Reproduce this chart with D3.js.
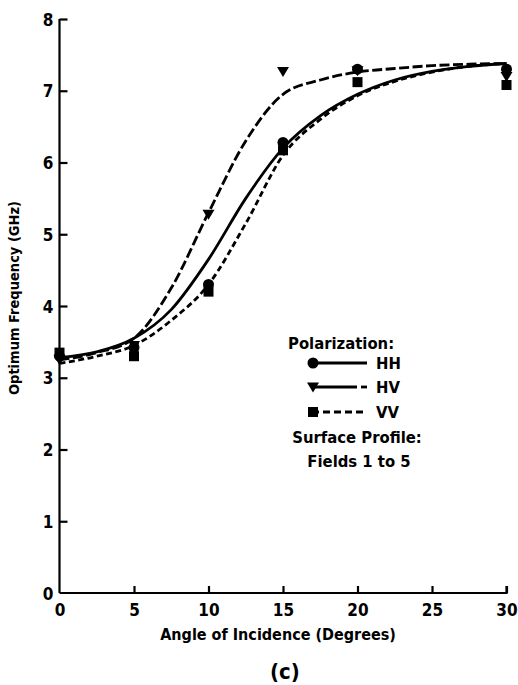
<!DOCTYPE html>
<html>
<head>
<meta charset="utf-8">
<script src="https://cdn.jsdelivr.net/npm/d3@7"></script>
<style>
  html, body { margin: 0; padding: 0; background: #fff; }
  svg { display: block; }
  text { font-family: "DejaVu Sans Condensed", "Liberation Sans Narrow", "DejaVu Sans", sans-serif; font-stretch: condensed; fill: #000; }
</style>
</head>
<body>
<svg id="chart" width="518" height="685"></svg>
<script>
// ---- Data ----
const xTicks = [0, 5, 10, 15, 20, 25, 30];
const yTicks = [0, 1, 2, 3, 4, 5, 6, 7, 8];

// measured points
const hhAngles = [0, 5, 10, 15, 20, 30];
const hhValues = [3.3, 3.42, 4.3, 6.28, 7.3, 7.3];
const hvAngles = [0, 5, 10, 15, 20, 30];
const hvValues = [3.25, 3.45, 5.28, 7.27, 7.28, 7.2];
const vvAngles = [0, 5, 10, 15, 20, 30];
const vvValues = [3.35, 3.3, 4.2, 6.17, 7.12, 7.08];

// fitted curves
const fitAngles = [0, 2.5, 5, 7.5, 10, 12.5, 15, 17.5, 20, 22.5, 25, 27.5, 30];
const hhFit = [3.28, 3.36, 3.55, 3.95, 4.65, 5.5, 6.2, 6.65, 6.95, 7.15, 7.27, 7.34, 7.38];
const hvFit = [3.25, 3.35, 3.55, 4.25, 5.3, 6.3, 6.95, 7.15, 7.26, 7.31, 7.35, 7.37, 7.38];
const vvFit = [3.2, 3.3, 3.45, 3.8, 4.3, 5.15, 6.1, 6.6, 6.93, 7.13, 7.26, 7.34, 7.38];

const legendLabels = ["HH", "HV", "VV"];

// ---- Drawing ----
const svg = d3.select("#chart");
const x = d3.scaleLinear().domain([0, 30]).range([59.5, 506.5]);
const y = d3.scaleLinear().domain([0, 8]).range([593, 19]);

const styles = {
  HH: { dash: null, marker: "circle" },
  HV: { dash: "10,3.5", marker: "triangle" },
  VV: { dash: "6,3.5", marker: "square" }
};

// axes
const gx = svg.append("g").attr("transform", `translate(0,${y(0)})`)
  .call(d3.axisBottom(x).tickValues(xTicks).tickSize(-7).tickPadding(14).tickFormat(d3.format("d")));
const gy = svg.append("g").attr("transform", `translate(${x(0)},0)`)
  .call(d3.axisLeft(y).tickValues(yTicks).tickSize(-8).tickPadding(6).tickFormat(d3.format("d")));

[gx, gy].forEach(g => {
  g.select(".domain").attr("stroke", "#000").attr("stroke-width", 2.2);
  g.selectAll(".tick line").attr("stroke", "#000").attr("stroke-width", 2.2);
  g.selectAll(".tick text").attr("font-size", 17).attr("font-weight", "bold")
    .attr("font-family", "'DejaVu Sans Condensed', 'Liberation Sans Narrow', sans-serif");
});
gy.selectAll(".tick line").filter(d => d === 0).remove();
gx.selectAll(".tick line").filter(d => d === 0).remove();
gy.selectAll(".tick text").attr("dy", "0.36em");
gx.selectAll(".tick text").attr("dy", "0.5em");
gy.select(".domain").attr("d", `M0,${y(0)}V${y(8)}`);
gx.select(".domain").attr("d", `M${x(0)},0H${x(30)}V-7`);

// axis titles
svg.append("text")
  .attr("transform", `translate(14,${298}) rotate(-90)`)
  .attr("text-anchor", "middle").attr("dominant-baseline", "central")
  .attr("font-size", 14.5).attr("font-weight", "600")
  .text("Optimum Frequency (GHz)");
svg.append("text")
  .attr("x", 278).attr("y", 640)
  .attr("text-anchor", "middle")
  .attr("font-size", 16).attr("font-weight", "bold")
  .text("Angle of Incidence (Degrees)");
svg.append("text")
  .attr("x", 285).attr("y", 679)
  .attr("text-anchor", "middle")
  .attr("font-size", 22).attr("font-weight", "bold")
  .attr("font-family", "'DejaVu Sans', sans-serif")
  .text("(c)");

// curves
const line = d3.line().x(d => x(d[0])).y(d => y(d[1])).curve(d3.curveMonotoneX);
const fits = { HH: hhFit, HV: hvFit, VV: vvFit };
Object.keys(fits).forEach(k => {
  svg.append("path")
    .datum(fitAngles.map((a, i) => [a, fits[k][i]]))
    .attr("d", line)
    .attr("fill", "none").attr("stroke", "#000").attr("stroke-width", 2.8)
    .attr("stroke-dasharray", styles[k].dash);
});

// markers
function marker(g, type, cx, cy, s) {
  if (type === "circle") {
    g.append("circle").attr("cx", cx).attr("cy", cy).attr("r", s * 0.55).attr("fill", "#000");
  } else if (type === "triangle") {
    g.append("path").attr("d", `M${cx - s * 0.6},${cy - s * 0.45}L${cx + s * 0.6},${cy - s * 0.45}L${cx},${cy + s * 0.55}Z`).attr("fill", "#000");
  } else {
    g.append("rect").attr("x", cx - s * 0.5).attr("y", cy - s * 0.5).attr("width", s).attr("height", s).attr("fill", "#000");
  }
}
const pts = {
  HH: hhAngles.map((a, i) => [a, hhValues[i]]),
  HV: hvAngles.map((a, i) => [a, hvValues[i]]),
  VV: vvAngles.map((a, i) => [a, vvValues[i]])
};
const mg = svg.append("g");
Object.keys(pts).forEach(k => {
  pts[k].forEach(p => marker(mg, styles[k].marker, x(p[0]), y(p[1]), 10));
});

// legend
const lg = svg.append("g");
lg.append("text").attr("x", 288).attr("y", 349).attr("font-size", 16.5).attr("font-weight", "bold").text("Polarization:");
const rowY = [363, 387, 412];
legendLabels.forEach((k, i) => {
  const yy = rowY[i];
  if (k === "HV") {
    lg.append("line").attr("x1", 312).attr("x2", 357).attr("y1", yy).attr("y2", yy)
      .attr("stroke", "#000").attr("stroke-width", 2.8);
    lg.append("line").attr("x1", 361).attr("x2", 367).attr("y1", yy).attr("y2", yy)
      .attr("stroke", "#000").attr("stroke-width", 2.8);
  } else {
    lg.append("line").attr("x1", 312).attr("x2", 367).attr("y1", yy).attr("y2", yy)
      .attr("stroke", "#000").attr("stroke-width", 2.8)
      .attr("stroke-dasharray", k === "VV" ? "7,4" : null);
  }
  marker(lg, styles[k].marker, 313, yy, 10);
  lg.append("text").attr("x", 376).attr("y", yy + 6).attr("font-size", 16.5).attr("font-weight", "bold").text(k);
});
lg.append("text").attr("x", 357).attr("y", 443).attr("text-anchor", "middle").attr("font-size", 16.5).attr("font-weight", "bold").text("Surface Profile:");
lg.append("text").attr("x", 359).attr("y", 467).attr("text-anchor", "middle").attr("font-size", 16.5).attr("font-weight", "bold").text("Fields 1 to 5");
</script>
</body>
</html>
